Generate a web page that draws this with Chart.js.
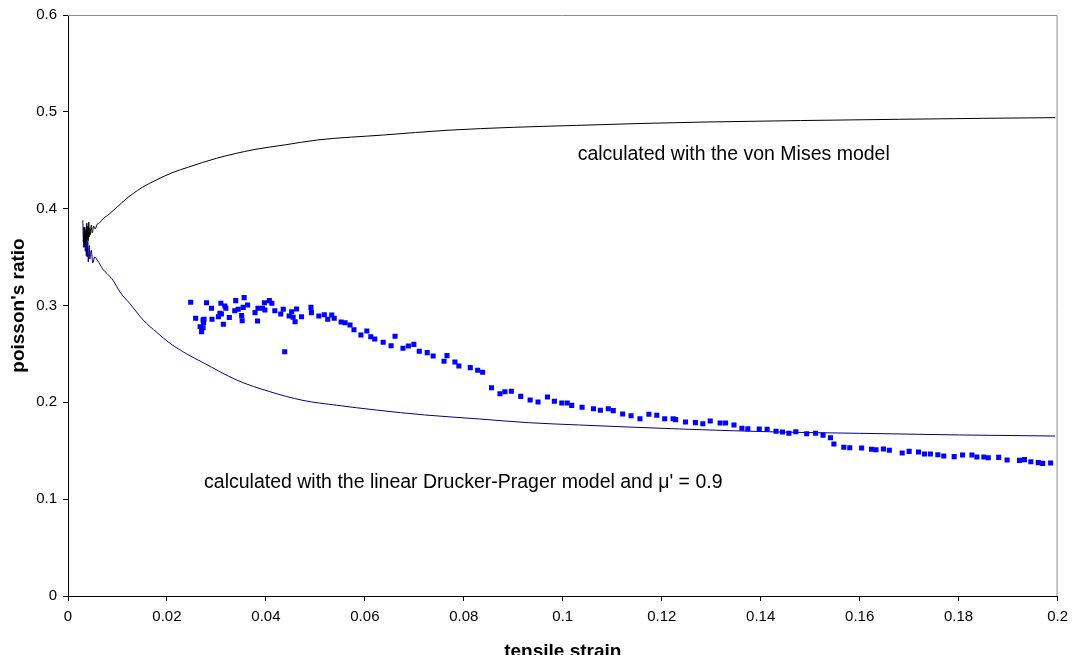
<!DOCTYPE html>
<html>
<head>
<meta charset="utf-8">
<title>poisson's ratio vs tensile strain</title>
<script src="https://cdn.jsdelivr.net/npm/chart.js@4/dist/chart.umd.min.js"></script>
<style>
    html, body { margin: 0; padding: 0; background: #fff; }
    #wrap { width: 1075px; height: 655px; overflow: hidden; }
</style>
</head>
<body>
<div id="wrap"><canvas id="ratioChart" width="1075" height="655"></canvas></div>
<script>
// Measured points (blue squares)
const strainTest = [0.0248, 0.0258, 0.0267, 0.0270, 0.0273, 0.0274, 0.0275, 0.0273, 0.0280, 0.0290,
    0.0291, 0.0304, 0.0307, 0.0309, 0.0310, 0.0314, 0.0317, 0.0319, 0.0326, 0.0337,
    0.0339, 0.0344, 0.0351, 0.0352, 0.0354, 0.0356, 0.0363, 0.0378, 0.0383, 0.0384,
    0.0393, 0.0397, 0.0398, 0.0407, 0.0412, 0.0418, 0.0430, 0.0435, 0.0438, 0.0447,
    0.0452, 0.0455, 0.0459, 0.0462, 0.0472, 0.0491, 0.0492, 0.0507, 0.0518, 0.0525,
    0.0533, 0.0538, 0.0552, 0.0560, 0.0570, 0.0578, 0.0592, 0.0604, 0.0612, 0.0620,
    0.0637, 0.0653, 0.0661, 0.0677, 0.0688, 0.0699, 0.0710, 0.0726, 0.0738, 0.0760,
    0.0766, 0.0782, 0.0790, 0.0813, 0.0828, 0.0838, 0.0856, 0.0873, 0.0883, 0.0896,
    0.0915, 0.0934, 0.0950, 0.0969, 0.0983, 0.0998, 0.1009, 0.1018, 0.1039, 0.1062,
    0.1076, 0.1092, 0.1102, 0.1121, 0.1138, 0.1156, 0.1174, 0.1190, 0.1206, 0.1223,
    0.1228, 0.1248, 0.1268, 0.1283, 0.1298, 0.1318, 0.1329, 0.1346, 0.1362, 0.1374,
    0.1397, 0.1413, 0.1431, 0.1444, 0.1457, 0.1471, 0.1493, 0.1511, 0.1526, 0.1541,
    0.1548, 0.1568, 0.1580, 0.1604, 0.1624, 0.1633, 0.1648, 0.1660, 0.1686, 0.1700,
    0.1719, 0.1731, 0.1743, 0.1758, 0.1770, 0.1791, 0.1808, 0.1827, 0.1837, 0.1851,
    0.1860, 0.1881, 0.1898, 0.1923, 0.1933, 0.1946, 0.1961, 0.1970, 0.1986];
const poissonTest = [0.3033, 0.2868, 0.2781, 0.2730, 0.2850, 0.2822, 0.2858, 0.2771, 0.3029, 0.2971,
    0.2858, 0.2884, 0.2920, 0.3023, 0.2912, 0.2806, 0.2995, 0.2971, 0.2876, 0.2946,
    0.3050, 0.2961, 0.2895, 0.2843, 0.2981, 0.3081, 0.3005, 0.2926, 0.2840, 0.2971,
    0.2971, 0.3029, 0.2954, 0.3050, 0.3023, 0.2946, 0.2912, 0.2961, 0.2523, 0.2892,
    0.2936, 0.2878, 0.2833, 0.2964, 0.2884, 0.2981, 0.2926, 0.2892, 0.2905, 0.2858,
    0.2902, 0.2868, 0.2830, 0.2822, 0.2799, 0.2750, 0.2695, 0.2736, 0.2678, 0.2654,
    0.2620, 0.2585, 0.2682, 0.2558, 0.2582, 0.2599, 0.2527, 0.2513, 0.2479, 0.2424,
    0.2482, 0.2417, 0.2375, 0.2358, 0.2331, 0.2310, 0.2151, 0.2089, 0.2110, 0.2114,
    0.2062, 0.2024, 0.2004, 0.2055, 0.2011, 0.1993, 0.1993, 0.1969, 0.1949, 0.1934,
    0.1918, 0.1934, 0.1914, 0.1880, 0.1862, 0.1831, 0.1877, 0.1866, 0.1831, 0.1831,
    0.1821, 0.1797, 0.1790, 0.1779, 0.1807, 0.1787, 0.1787, 0.1766, 0.1732, 0.1728,
    0.1725, 0.1722, 0.1701, 0.1694, 0.1680, 0.1697, 0.1676, 0.1680, 0.1661, 0.1635,
    0.1570, 0.1536, 0.1531, 0.1528, 0.1515, 0.1511, 0.1518, 0.1505, 0.1477, 0.1494,
    0.1487, 0.1466, 0.1466, 0.1459, 0.1446, 0.1439, 0.1456, 0.1456, 0.1436, 0.1436,
    0.1428, 0.1432, 0.1405, 0.1401, 0.1408, 0.1387, 0.1377, 0.1370, 0.1374];

// von Mises model (black line)
const strainMises = [0.0031, 0.0032, 0.0033, 0.0034, 0.0035, 0.0036, 0.0037, 0.0038, 0.0039, 0.0040,
    0.0041, 0.0042, 0.0043, 0.0044, 0.0045, 0.0047, 0.0049, 0.0052, 0.0055, 0.0059,
    0.0063, 0.0068, 0.0074, 0.0080, 0.0089, 0.0100, 0.0115, 0.0130, 0.0150, 0.0180,
    0.0210, 0.0244, 0.0300, 0.0376, 0.0440, 0.0505, 0.0636, 0.0768, 0.0900, 0.1028,
    0.1160, 0.1289, 0.1480, 0.1681, 0.1850, 0.1995];
const poissonMises = [0.360, 0.374, 0.362, 0.381, 0.364, 0.378, 0.366, 0.385, 0.368, 0.382,
    0.367, 0.386, 0.371, 0.380, 0.373, 0.383, 0.375, 0.382, 0.379, 0.384,
    0.385, 0.388, 0.391, 0.393, 0.397, 0.402, 0.409, 0.415, 0.422, 0.430,
    0.437, 0.443, 0.452, 0.461, 0.466, 0.471, 0.476, 0.481, 0.484, 0.486,
    0.488, 0.4895, 0.491, 0.4923, 0.4933, 0.494];

// linear Drucker-Prager model (navy line)
const strainDP = [0.0030, 0.0031, 0.0032, 0.0033, 0.0034, 0.0035, 0.0036, 0.0037, 0.0038, 0.0039,
    0.0040, 0.0041, 0.0043, 0.0044, 0.0047, 0.0050, 0.0054, 0.0059, 0.0065, 0.0071,
    0.0079, 0.0091, 0.0105, 0.0125, 0.0152, 0.0180, 0.0206, 0.0240, 0.0273, 0.0341,
    0.0408, 0.0475, 0.0543, 0.0624, 0.0720, 0.0832, 0.0930, 0.1034, 0.1236, 0.1432,
    0.1600, 0.1802, 0.1995];
const poissonDP = [0.388, 0.366, 0.381, 0.360, 0.379, 0.356, 0.374, 0.351, 0.369, 0.350,
    0.367, 0.345, 0.362, 0.348, 0.357, 0.344, 0.350, 0.347, 0.342, 0.337,
    0.333, 0.326, 0.314, 0.302, 0.285, 0.272, 0.261, 0.250, 0.241, 0.223,
    0.211, 0.202, 0.197, 0.192, 0.187, 0.1828, 0.179, 0.1766, 0.1725, 0.1694,
    0.168, 0.1663, 0.1652];

const noteMises = 'calculated with the von Mises model';
const noteDP = "calculated with the linear Drucker-Prager model and \u03bc' = 0.9";

const FONT = '"Liberation Sans", Arial, sans-serif';

function toPoints(xs, ys) {
    return xs.map((x, i) => ({ x: x, y: ys[i] }));
}

// gray frame on top / right of plot area + the two text notes
const framePlugin = {
    id: 'frameAndNotes',
    beforeDatasetsDraw(chart) {
        const { ctx, chartArea: a } = chart;
        ctx.save();
        ctx.strokeStyle = '#8c8c8c';
        ctx.lineWidth = 1;
        ctx.beginPath();
        ctx.moveTo(a.left, a.top + 0.5);
        ctx.lineTo(a.right - 0.5, a.top + 0.5);
        ctx.lineTo(a.right - 0.5, a.bottom);
        ctx.stroke();
        ctx.restore();
    },
    afterDatasetsDraw(chart) {
        const { ctx, scales: { x, y } } = chart;
        ctx.save();
        ctx.fillStyle = '#000';
        ctx.font = '19.5px ' + FONT;
        ctx.textBaseline = 'alphabetic';
        ctx.textAlign = 'left';
        ctx.fillText(noteMises, x.getPixelForValue(0.1030), y.getPixelForValue(0.4503));
        ctx.fillText(noteDP, x.getPixelForValue(0.0275), y.getPixelForValue(0.1115));
        ctx.restore();
    }
};

function renderChart() {
    const ctx = document.getElementById('ratioChart');
    new Chart(ctx.getContext('2d'), {
        type: 'scatter',
        data: {
            datasets: [
                {
                    label: 'test',
                    data: toPoints(strainTest, poissonTest),
                    pointStyle: 'rect',
                    pointRadius: 3.6,
                    pointBorderWidth: 0,
                    backgroundColor: '#0000ff',
                    borderColor: '#0000ff',
                    showLine: false
                },
                {
                    label: 'von Mises',
                    data: toPoints(strainMises, poissonMises),
                    showLine: true,
                    borderColor: '#000000',
                    borderWidth: 1,
                    pointRadius: 0,
                    cubicInterpolationMode: 'monotone'
                },
                {
                    label: 'Drucker-Prager',
                    data: toPoints(strainDP, poissonDP),
                    showLine: true,
                    borderColor: '#000080',
                    borderWidth: 1,
                    pointRadius: 0,
                    cubicInterpolationMode: 'monotone'
                }
            ]
        },
        options: {
            responsive: false,
            animation: false,
            events: [],
            layout: { padding: { left: 0, top: 15, right: 17, bottom: 0 } },
            plugins: {
                legend: { display: false },
                tooltip: { enabled: false }
            },
            scales: {
                x: {
                    type: 'linear',
                    min: 0,
                    max: 0.2,
                    afterFit: s => { s.height = 59; },
                    ticks: {
                        stepSize: 0.02,
                        color: '#000',
                        padding: 7,
                        maxRotation: 0,
                        font: { family: FONT, size: 15 },
                        callback: v => String(+v.toFixed(2))
                    },
                    grid: { drawOnChartArea: false, drawTicks: true, tickLength: 5, color: '#000' },
                    border: { color: '#000', width: 1 },
                    title: {
                        display: true,
                        text: 'tensile strain',
                        color: '#000',
                        font: { family: FONT, size: 19, weight: 'bold', lineHeight: 1 },
                        padding: { top: 0, bottom: -6 }
                    }
                },
                y: {
                    type: 'linear',
                    min: 0,
                    max: 0.6,
                    afterFit: s => { s.width = 68; },
                    ticks: {
                        stepSize: 0.1,
                        color: '#000',
                        padding: 6,
                        font: { family: FONT, size: 15 },
                        callback: v => String(+v.toFixed(1))
                    },
                    grid: { drawOnChartArea: false, drawTicks: true, tickLength: 5, color: '#000' },
                    border: { color: '#000', width: 1 },
                    title: {
                        display: true,
                        text: "poisson's ratio",
                        color: '#000',
                        font: { family: FONT, size: 19, weight: 'bold', lineHeight: 1 },
                        padding: { top: 9, bottom: 0 }
                    }
                }
            }
        },
        plugins: [framePlugin]
    });
}

renderChart();
</script>
</body>
</html>
